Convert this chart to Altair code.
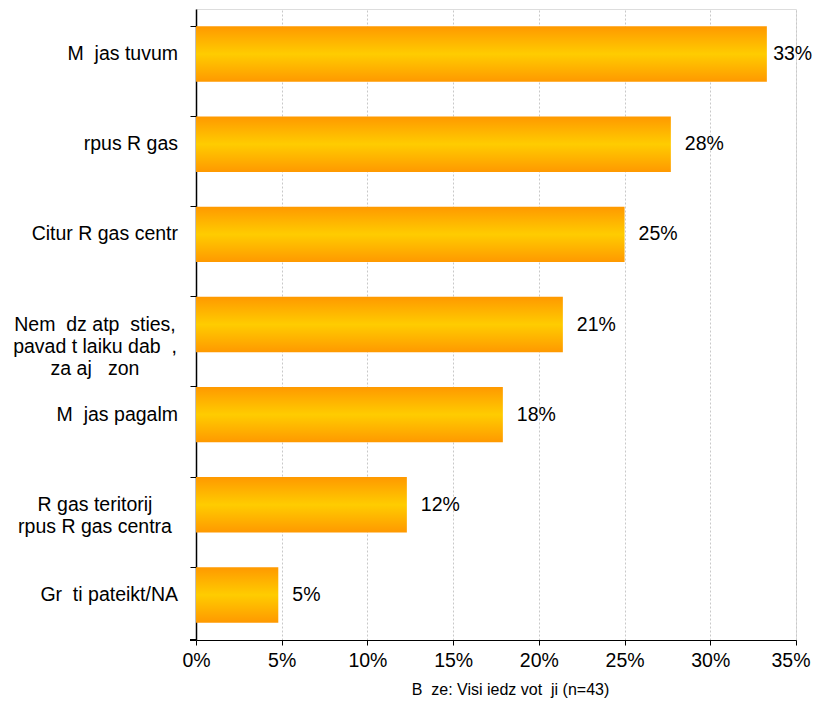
import altair as alt
import pandas as pd

NB = "\u00a0"

categories = [
    f"M{NB*2}jas tuvum{NB*2}",
    f"{NB*2}rpus R{NB}gas",
    f"Citur R{NB}gas centr{NB*2}",
    f"Nem{NB*2}dz atp{NB*2}sties,\npavad{NB}t laiku dab{NB*2},\nza{NB}aj{NB*2} zon{NB*2}",
    f"M{NB*2}jas pagalm{NB*2}",
    f"R{NB}gas teritorij{NB*2}\n{NB*2}rpus R{NB}gas centra",
    f"Gr{NB*2}ti pateikt/NA",
]
values = [0.333, 0.277, 0.250, 0.214, 0.179, 0.123, 0.048]
tick_values = [0, 0.05, 0.10, 0.15, 0.20, 0.25, 0.30, 0.35]
x_title = f"B{NB*2}ze: Visi iedz{NB}vot{NB*2}ji (n=43)"

df = pd.DataFrame({"category": categories, "value": values})

FONT = "Liberation Sans"
FS = 19.5

gradient = alt.LinearGradient(
    gradient="linear",
    stops=[
        alt.GradientStop(color="#FF9900", offset=0),
        alt.GradientStop(color="#FFCC00", offset=0.5),
        alt.GradientStop(color="#FF9900", offset=1),
    ],
    x1=0, x2=0, y1=0, y2=1,
)

yscale = alt.Scale(paddingInner=0.385, paddingOuter=0.1925)
xenc = alt.X(
    "value:Q",
    scale=alt.Scale(domain=[0, 0.35], nice=False),
    axis=alt.Axis(
        values=tick_values, format=".0%", title=x_title,
        labelFontSize=FS, labelFont=FONT, labelColor="black", labelPadding=6,
        labelFlush=True, labelFlushOffset=14,
        titleFontSize=16, titleFont=FONT, titleFontWeight="normal", titleColor="black",
        titlePadding=12, titleX=314,
        domainColor="black", domainWidth=1.2, tickColor="black", tickSize=5,
        grid=True, gridColor="#c8c8c8", gridDash=[2, 2], gridWidth=1,
    ),
)
yenc = alt.Y(
    "category:N", sort=categories, scale=yscale,
    axis=alt.Axis(
        labels=False, title=None, bandPosition=0, tickSize=6,
        tickColor="black", domainColor="black", domainWidth=1.5, grid=False,
    ),
)

base = alt.Chart(df)

bars = base.mark_bar(color=gradient, stroke=None).encode(x=xenc, y=yenc)

# keep the value labels inside the page width
value_labels = base.transform_calculate(
    lx="min(datum.value, 0.3285)"
).mark_text(
    align="left", baseline="middle", dx=14, fontSize=FS, font=FONT, color="black"
).encode(x="lx:Q", y=alt.Y("category:N", sort=categories), text=alt.Text("value:Q", format=".0%"))

single = base.transform_filter("indexof(datum.category, '\\n') < 0").mark_text(
    align="right", baseline="middle", fontSize=FS, font=FONT, color="black"
).encode(x=alt.value(-18), y=alt.Y("category:N", sort=categories), text="category:N")

multi = base.transform_filter("indexof(datum.category, '\\n') >= 0").mark_text(
    align="center", baseline="middle", fontSize=FS, font=FONT, color="black",
    lineBreak="\n", lineHeight=22,
).encode(x=alt.value(-101), y=alt.Y("category:N", sort=categories), text="category:N")

bottom_tick = alt.Chart(df).mark_rule(color="black", strokeWidth=1).encode(
    x=alt.value(-6), x2=alt.value(0), y=alt.value(631)
)

chart = alt.layer(bars, value_labels, single, multi, bottom_tick).properties(
    width=600, height=631,
    autosize=alt.AutoSizeParams(type="none"),
    padding={"left": 188, "top": 1, "right": 17, "bottom": 60},
).configure_view(stroke="#8c8c8c", strokeWidth=2.5).configure(background="white")

chart.save("out.html", embed_options={"renderer": "svg", "actions": False})
